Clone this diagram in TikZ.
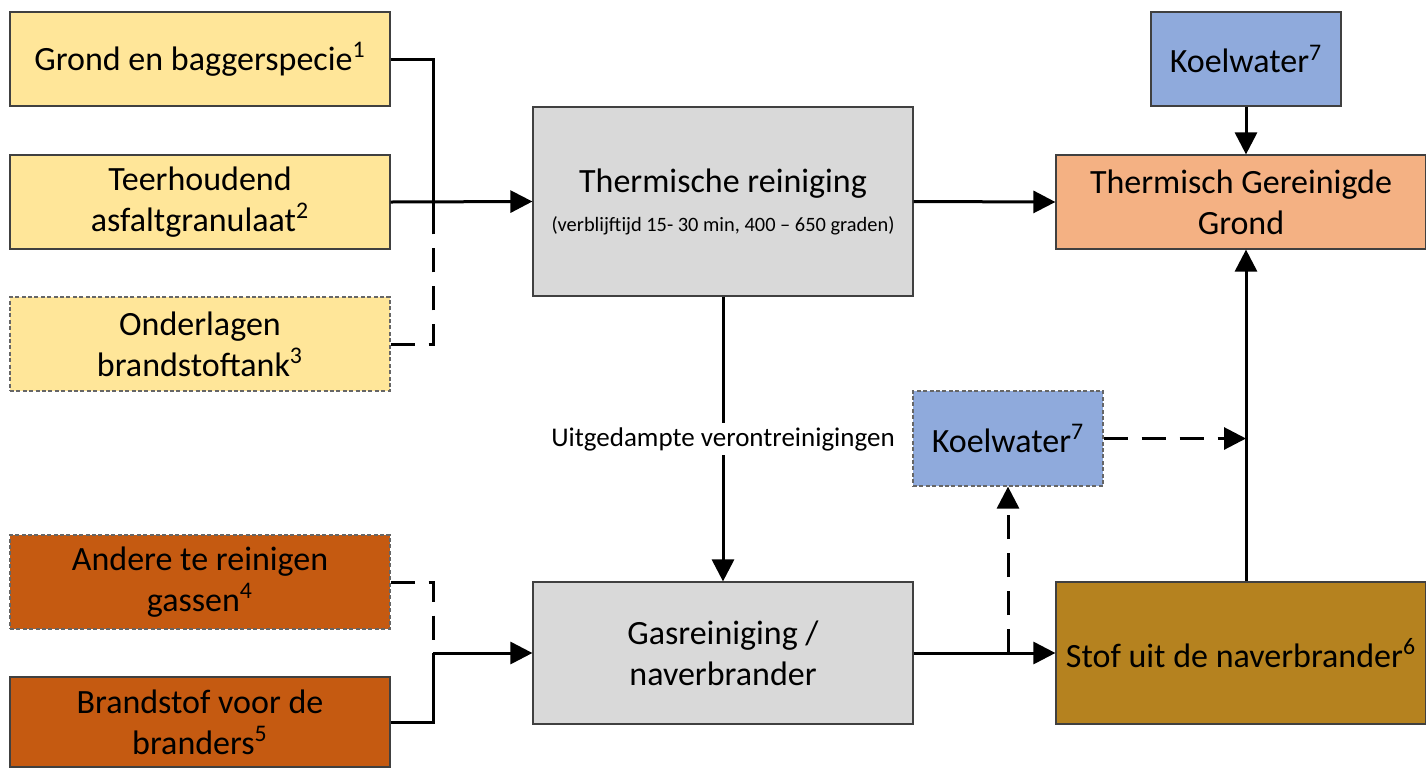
\documentclass[tikz,border=0pt]{standalone}
\usepackage{fontspec}
\setmainfont{Carlito}
\usetikzlibrary{arrows.meta}
\definecolor{cYel}{HTML}{FFE699}
\definecolor{cGray}{HTML}{D9D9D9}
\definecolor{cBlue}{HTML}{8FAADC}
\definecolor{cSalm}{HTML}{F4B183}
\definecolor{cOran}{HTML}{C55A11}
\definecolor{cGold}{HTML}{B5821F}
\definecolor{cBord}{HTML}{404040}
\tikzset{
  box/.style={draw=cBord, line width=0.6pt, rectangle, inner sep=0pt, align=center,
    font=\fontsize{17}{20.5}\selectfont, text=black},
  dbox/.style={box, dash pattern=on 2pt off 1.2pt, draw=cBord!80},
  conn/.style={line width=1.5pt, black},
  arr/.style={conn, -{Triangle[length=11pt,width=11pt]}},
  dsh/.style={dash pattern=on 12pt off 7pt},
}
\begin{document}
\begin{tikzpicture}[x=0.5pt,y=-0.5pt]
\useasboundingbox (0,0) rectangle (1426,767);
% left inputs
\node[box, fill=cYel, minimum width=190pt, minimum height=47pt] (g1) at (200,59) {Grond en baggerspecie\textsuperscript{1}};
\node[box, fill=cYel, minimum width=190pt, minimum height=47pt] (g2) at (200,202) {Teerhoudend\\asfaltgranulaat\textsuperscript{2}};
\node[dbox, fill=cYel, minimum width=190pt, minimum height=47pt] (g3) at (200,344) {Onderlagen\\brandstoftank\textsuperscript{3}};
\node[dbox, fill=cOran, minimum width=190pt, minimum height=47pt] (a4) at (200,582) {Andere te reinigen\\gassen\textsuperscript{4}};
\node[box, fill=cOran, minimum width=190pt, minimum height=45pt] (b5) at (200,722) {Brandstof voor de\\branders\textsuperscript{5}};
% middle
\node[box, fill=cGray, minimum width=190pt, minimum height=94.5pt] (tr) at (723,201.5) {Thermische reiniging\\[-1pt]{\fontsize{10.2}{12}\selectfont (verblijftijd 15- 30 min, 400 -- 650 graden)}};
\node[box, fill=cGray, minimum width=190pt, minimum height=71pt] (gr) at (723,653) {Gasreiniging /\\naverbrander};
% right
\node[box, fill=cBlue, minimum width=95pt, minimum height=47pt] (kw1) at (1246,59) {Koelwater\textsuperscript{7}};
\node[box, fill=cSalm, minimum width=185pt, minimum height=47pt] (tgg) at (1241,202) {Thermisch Gereinigde\\Grond};
\node[dbox, fill=cBlue, minimum width=95pt, minimum height=47.5pt] (kw2) at (1008,438.5) {Koelwater\textsuperscript{7}};
\node[box, fill=cGold, minimum width=185pt, minimum height=71pt] (st) at (1241,653) {Stof uit de naverbrander\textsuperscript{6}};
% junctions
\coordinate (ja) at (433,202);
\coordinate (jb) at (433,653);
\coordinate (jc) at (1246,438.5);
% connectors
\draw[conn, dsh] (g3.east) -| (ja);
\draw[conn] (g1.east) -| ([yshift=-12pt]ja);
\draw[arr] (g2.east) -- (tr.west);
\draw[conn, dsh] (a4.east) -| (jb);
\draw[conn] (b5.east) -| (jb);
\draw[arr] (jb) -- (gr.west);
\draw[arr] (tr.east) -- (tgg.west);
\draw[arr] (kw1.south) -- (kw1.south |- tgg.north);
\draw[arr] (tr.south) -- node[fill=white, inner sep=2pt, font=\fontsize{13.5}{15}\selectfont] (lbl) {Uitgedampte verontreinigingen} (gr.north);
\draw[arr] (gr.east) -- (st.west);
\draw[arr, dsh] (kw2.south |- gr.east) -- (kw2.south);
\draw[arr, dsh] (kw2.east) -- (jc);
\draw[arr] (st.north -| kw1.south) -- (tgg.south -| kw1.south);
\end{tikzpicture}
\end{document}
